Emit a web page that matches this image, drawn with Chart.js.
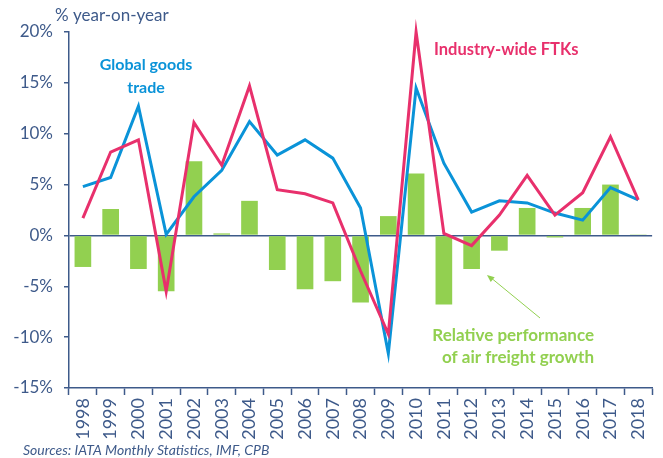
<!DOCTYPE html>
<html>
<head>
<meta charset="utf-8">
<script src="https://cdn.jsdelivr.net/npm/chart.js@4/dist/chart.umd.min.js"></script>
<style>
  html, body { margin: 0; padding: 0; background: #fff; }
  #wrap { width: 663px; height: 458px; position: relative; }
</style>
</head>
<body>
<div id="wrap"><canvas id="freightChart"></canvas></div>
<script>
const years = ['1998', '1999', '2000', '2001', '2002', '2003', '2004', '2005', '2006', '2007', '2008',
               '2009', '2010', '2011', '2012', '2013', '2014', '2015', '2016', '2017', '2018'];
const relativePerformance = [-3.1, 2.6, -3.3, -5.5, 7.3, 0.2, 3.4, -3.4, -5.3, -4.5, -6.6,
                             1.9, 6.1, -6.8, -3.3, -1.5, 2.7, -0.2, 2.7, 5.0, 0.1];
const goodsTrade = [4.8, 5.7, 12.7, 0.1, 3.8, 6.4, 11.2, 7.9, 9.4, 7.6, 2.7,
                    -11.6, 14.5, 7.1, 2.3, 3.4, 3.2, 2.2, 1.5, 4.7, 3.5];
const industryFtks = [1.7, 8.2, 9.4, -5.5, 11.1, 6.9, 14.7, 4.5, 4.1, 3.2, -3.5,
                      -9.7, 20.0, 0.2, -1.0, 2.0, 5.9, 2.0, 4.2, 9.7, 3.5];

const axisColor = '#3E5A8A';
const green = '#92D050';
const blue = '#0A93D8';
const pink = '#E8306C';

const textPlugin = {
    id: 'chartText',
    afterDraw(chart) {
        const c = chart.ctx;
        c.save();
        c.textBaseline = 'middle';

        c.fillStyle = axisColor;
        c.font = '17px Lato';
        c.textAlign = 'left';
        c.fillText('% year-on-year', 55, 16);

        c.font = 'italic 14px Lato';
        c.fillText('Sources: IATA Monthly Statistics, IMF, CPB', 23, 450);

        c.font = 'bold 16px Lato';
        c.fillStyle = blue;
        c.textAlign = 'center';
        c.fillText('Global goods', 146, 65);
        c.fillText('trade', 146, 88);

        c.font = 'bold 16.5px Lato';
        c.fillStyle = pink;
        c.textAlign = 'left';
        c.fillText('Industry-wide FTKs', 434, 50);

        c.font = 'bold 17px Lato';
        c.fillStyle = green;
        c.textAlign = 'right';
        c.fillText('Relative performance', 594, 336);
        c.fillText('of air freight growth', 594, 358);

        // arrow
        c.strokeStyle = green;
        c.fillStyle = green;
        c.lineWidth = 1;
        c.beginPath();
        c.moveTo(540, 318);
        c.lineTo(490, 277);
        c.stroke();
        const ang = Math.atan2(277 - 318, 490 - 540);
        c.beginPath();
        c.moveTo(487, 275);
        c.lineTo(487 - 8 * Math.cos(ang - 0.4), 275 - 8 * Math.sin(ang - 0.4));
        c.lineTo(487 - 8 * Math.cos(ang + 0.4), 275 - 8 * Math.sin(ang + 0.4));
        c.closePath();
        c.fill();
        c.restore();
    }
};

const ctx = document.getElementById('freightChart').getContext('2d');
const freightChart = new Chart(ctx, {
    data: {
        labels: years,
        datasets: [
            {
                type: 'line',
                label: 'Industry-wide FTKs',
                data: industryFtks,
                borderColor: pink,
                borderWidth: 3,
                pointRadius: 0,
                tension: 0,
                clip: false,
                order: 1
            },
            {
                type: 'line',
                label: 'Global goods trade',
                data: goodsTrade,
                borderColor: blue,
                borderWidth: 3,
                pointRadius: 0,
                tension: 0,
                order: 2
            },
            {
                type: 'bar',
                label: 'Relative performance of air freight growth',
                data: relativePerformance,
                backgroundColor: green,
                barPercentage: 0.6,
                categoryPercentage: 1,
                order: 3
            }
        ]
    },
    options: {
        responsive: true,
        maintainAspectRatio: false,
        animation: false,
        layout: { padding: { left: 0, right: 7, top: 32, bottom: 0 } },
        plugins: {
            legend: { display: false },
            tooltip: { enabled: false }
        },
        scales: {
            x: {
                afterFit: s => { s.height = 70; },
                border: { color: axisColor, width: 1.5 },
                grid: {
                    offset: true,
                    drawOnChartArea: false,
                    tickLength: 7,
                    tickColor: axisColor,
                    tickWidth: 1.5
                },
                ticks: {
                    color: axisColor,
                    font: { family: 'Lato', size: 18 },
                    minRotation: 90,
                    maxRotation: 90,
                    autoSkip: false,
                    padding: 3
                }
            },
            y: {
                min: -15,
                max: 20,
                afterFit: s => { s.width = 69; },
                border: { color: axisColor, width: 1.5 },
                grid: {
                    color: c => c.tick && c.tick.value === 0 ? axisColor : 'rgba(0,0,0,0)',
                    lineWidth: 1.5,
                    tickLength: 5,
                    tickColor: axisColor
                },
                ticks: {
                    stepSize: 5,
                    color: axisColor,
                    font: { family: 'Lato', size: 17 },
                    padding: 11,
                    callback: v => v + '%'
                }
            }
        }
    },
    plugins: [textPlugin]
});
</script>
</body>
</html>
